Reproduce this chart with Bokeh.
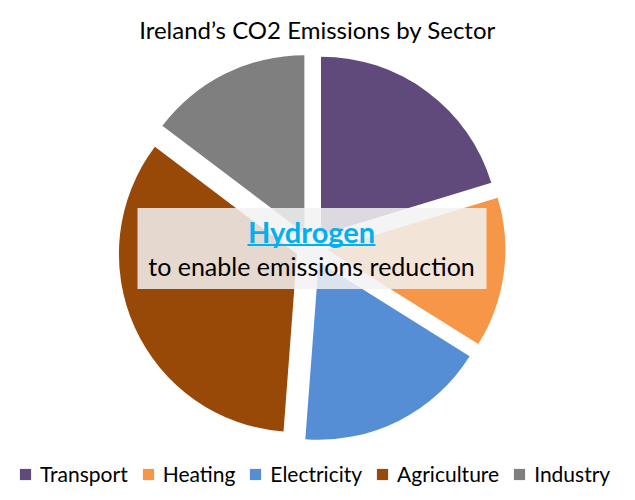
import numpy as np
from bokeh.plotting import figure
from bokeh.models import Range1d, Label, Legend, LegendItem, ColumnDataSource
from bokeh.embed import file_html
from bokeh.resources import INLINE

# ---- data ----
sectors = ["Transport", "Heating", "Electricity", "Agriculture", "Industry"]
shares = [20.3, 13.6, 17.3, 34.1, 14.7]
colors = ["#604A7B", "#F79646", "#558ED5", "#984807", "#7F7F7F"]
title_text = "Ireland\u2019s CO2 Emissions by Sector"
overlay_head = "Hydrogen"
overlay_sub = "to enable emissions reduction"

# ---- layout (1 data unit = 1 screen pixel, y measured upward from 500) ----
W, H = 619, 492
CX, CY = 311, 253
R = 178
EXPLODE = 16
FONT = "Lato"
TXT_SHIFT = 10  # empirical baseline correction for labels

p = figure(width=W, height=H, output_backend="svg", toolbar_location=None,
           x_range=Range1d(0, W), y_range=Range1d(500 - H, 500),
           min_border=0, outline_line_color=None, background_fill_color="white")
p.axis.visible = False
p.grid.visible = False

vals = np.array(shares, dtype=float)
frac = vals / vals.sum()
c1 = np.cumsum(frac)
c0 = c1 - frac
start = np.pi / 2 - 2 * np.pi * c0
end = np.pi / 2 - 2 * np.pi * c1
mid = (start + end) / 2
xs = CX + EXPLODE * np.cos(mid)
ys = CY + EXPLODE * np.sin(mid)

items = []
for i, name in enumerate(sectors):
    src = ColumnDataSource(dict(x=[xs[i]], y=[ys[i]], s=[start[i]], e=[end[i]]))
    r = p.wedge(x="x", y="y", radius=R, start_angle="s", end_angle="e",
                direction="clock", fill_color=colors[i], line_color=None, source=src)
    items.append(LegendItem(label=name, renderers=[r]))

# overlay box (semi-transparent)
p.quad(left=[137], right=[486], top=[500 - 207.5], bottom=[500 - 288.5],
       fill_color="#F2F2F2", fill_alpha=0.85, line_color=None)
# underline of the heading
p.segment(x0=[247], y0=[500 - 244.5], x1=[375], y1=[500 - 244.5],
          line_color="#00B0F0", line_width=2)

p.add_layout(Label(x=311, y=500 - 240.7 + TXT_SHIFT, text=overlay_head, text_align="center",
                   text_baseline="alphabetic", text_font=FONT, text_font_style="bold",
                   text_font_size="29px", text_color="#00B0F0"))
p.add_layout(Label(x=311, y=500 - 275 + TXT_SHIFT, text=overlay_sub, text_align="center",
                   text_baseline="alphabetic", text_font=FONT,
                   text_font_size="25px", text_color="black"))

# title
p.add_layout(Label(x=317, y=500 - 38.5 + TXT_SHIFT, text=title_text, text_align="center",
                   text_baseline="alphabetic", text_font=FONT,
                   text_font_size="24px", text_color="black"))

legend = Legend(items=items, orientation="horizontal", location=(18, 6),
                glyph_width=14, glyph_height=14, label_standoff=8, spacing=13,
                padding=0, margin=0, border_line_alpha=0, background_fill_alpha=0,
                label_text_font=FONT, label_text_font_size="21px",
                label_text_color="black", label_height=20)
p.add_layout(legend, "center")

open("out.html", "w").write(file_html(p, INLINE))
